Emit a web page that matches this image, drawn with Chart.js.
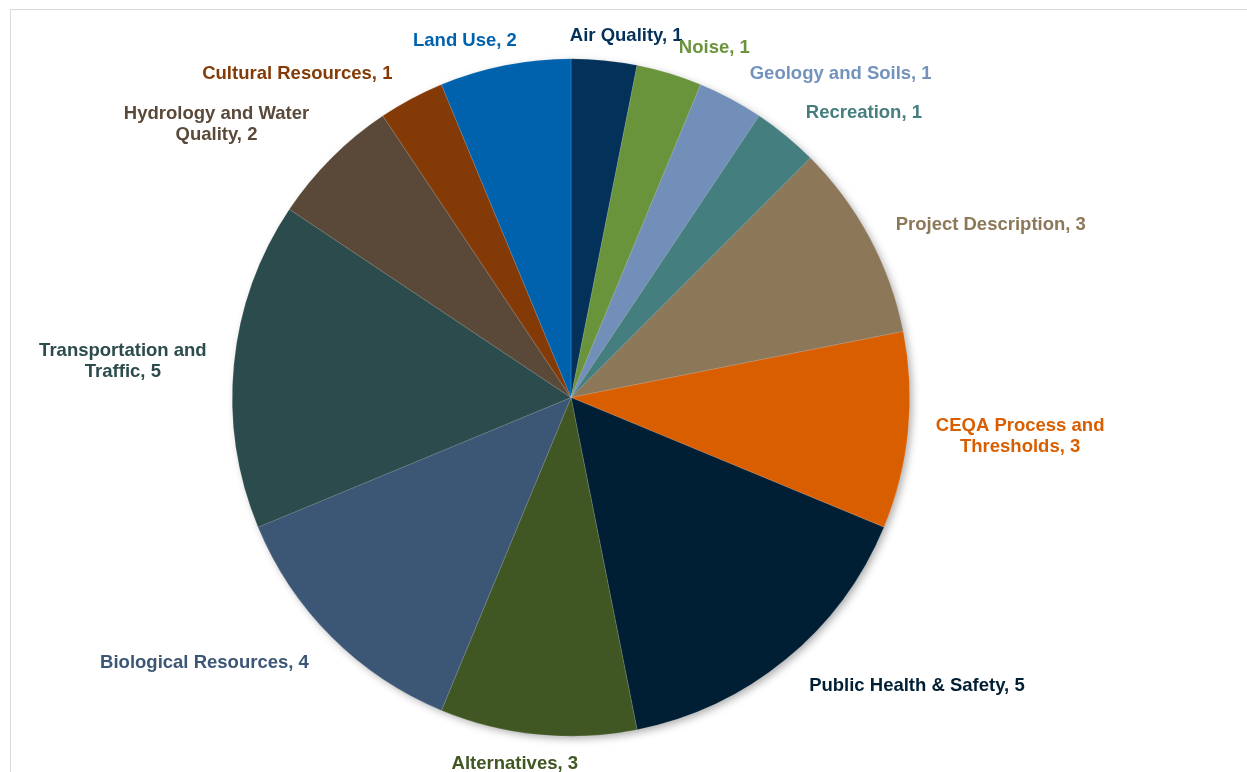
<!DOCTYPE html>
<html>
<head>
<meta charset="utf-8">
<script src="https://cdn.jsdelivr.net/npm/chart.js@4/dist/chart.umd.min.js"></script>
<style>
html,body{margin:0;padding:0;background:#fff;overflow:hidden;}
#wrap{position:relative;width:1247px;height:772px;}
#frame{position:absolute;left:10px;top:9px;width:1300px;height:800px;border-left:1px solid #d9d9d9;border-top:1px solid #d9d9d9;}
canvas{position:absolute;left:0;top:0;}
</style>
</head>
<body>
<div id="wrap">
<div id="frame"></div>
<canvas id="c" width="1247" height="772"></canvas>
</div>
<script>
const categories = ["Air Quality","Noise","Geology and Soils","Recreation","Project Description","CEQA Process and Thresholds","Public Health & Safety","Alternatives","Biological Resources","Transportation and Traffic","Hydrology and Water Quality","Cultural Resources","Land Use"];
const values = [1,1,1,1,3,3,5,3,4,5,2,1,2];

const sliceColors = ["#03315a","#6a943c","#718fb8","#457e7e","#8c7759","#d95e00","#001f35","#415723","#3c5676","#2b4b4c","#5a4938","#833a06","#0062ad"];
const labelColors = ["#03315a","#6a943c","#7393bd","#457e7e","#8c7759","#d95e00","#001f35","#415723","#3c5676","#2b4b4c","#5a4938","#833a06","#0062ad"];
// label text lines (wrapped like the original)
const labelLines = [
  ["Air Quality, 1"],["Noise, 1"],["Geology and Soils, 1"],["Recreation, 1"],["Project Description, 3"],
  ["CEQA Process and","Thresholds, 3"],["Public Health & Safety, 5"],["Alternatives, 3"],["Biological Resources, 4"],
  ["Transportation and","Traffic, 5"],["Hydrology and Water","Quality, 2"],["Cultural Resources, 1"],["Land Use, 2"]
];
// offset of label centre from slice-edge midpoint
const labelOffsets = [[22,-24.5],[45,-25.5],[110,-24.5],[78,-22.5],[121,-12.5],[112,5.5],[131,26.5],[-23,29.5],[-127,25.5],[-111,-2.5],[-115,-33.5],[-114,-24.5],[-40,-24.5]];

const shadowPlugin = {
  id:'shadow',
  beforeDatasetsDraw(chart){
    const arc = chart.getDatasetMeta(0).data[0];
    if(!arc) return;
    const ctx = chart.ctx;
    ctx.save();
    ctx.shadowColor='rgba(0,0,0,0.35)';
    ctx.shadowBlur=9;
    ctx.shadowOffsetX=3;
    ctx.shadowOffsetY=3;
    ctx.fillStyle='#888';
    ctx.beginPath();
    ctx.arc(arc.x, arc.y, arc.outerRadius-1, 0, Math.PI*2);
    ctx.fill();
    ctx.restore();
  }
};

const labelPlugin = {
  id:'outLabels',
  afterDatasetsDraw(chart){
    const ctx = chart.ctx;
    const meta = chart.getDatasetMeta(0);
    ctx.save();
    ctx.font = 'bold 18.5px "Liberation Sans", Arial, sans-serif';
    ctx.textAlign='center';
    ctx.textBaseline='middle';
    meta.data.forEach((arc,i)=>{
      const mid = (arc.startAngle+arc.endAngle)/2;
      const ex = arc.x + Math.cos(mid)*arc.outerRadius;
      const ey = arc.y + Math.sin(mid)*arc.outerRadius;
      const cx = ex + labelOffsets[i][0];
      const cy = ey + labelOffsets[i][1];
      const lines = labelLines[i];
      const lh = 21;
      ctx.fillStyle = labelColors[i];
      lines.forEach((t,k)=>{
        ctx.fillText(t, cx, cy + (k-(lines.length-1)/2)*lh);
      });
    });
    ctx.restore();
  }
};

new Chart(document.getElementById('c'), {
  type:'pie',
  data:{
    labels:categories,
    datasets:[{
      data:values,
      backgroundColor:sliceColors,
      borderColor:'rgba(255,255,255,0.3)',
      borderWidth:0.5
    }]
  },
  options:{
    responsive:false,
    animation:false,
    layout:{padding:{left:232,right:337,top:58.5,bottom:35.5}},
    plugins:{legend:{display:false},tooltip:{enabled:false}}
  },
  plugins:[shadowPlugin,labelPlugin]
});
</script>
</body>
</html>
